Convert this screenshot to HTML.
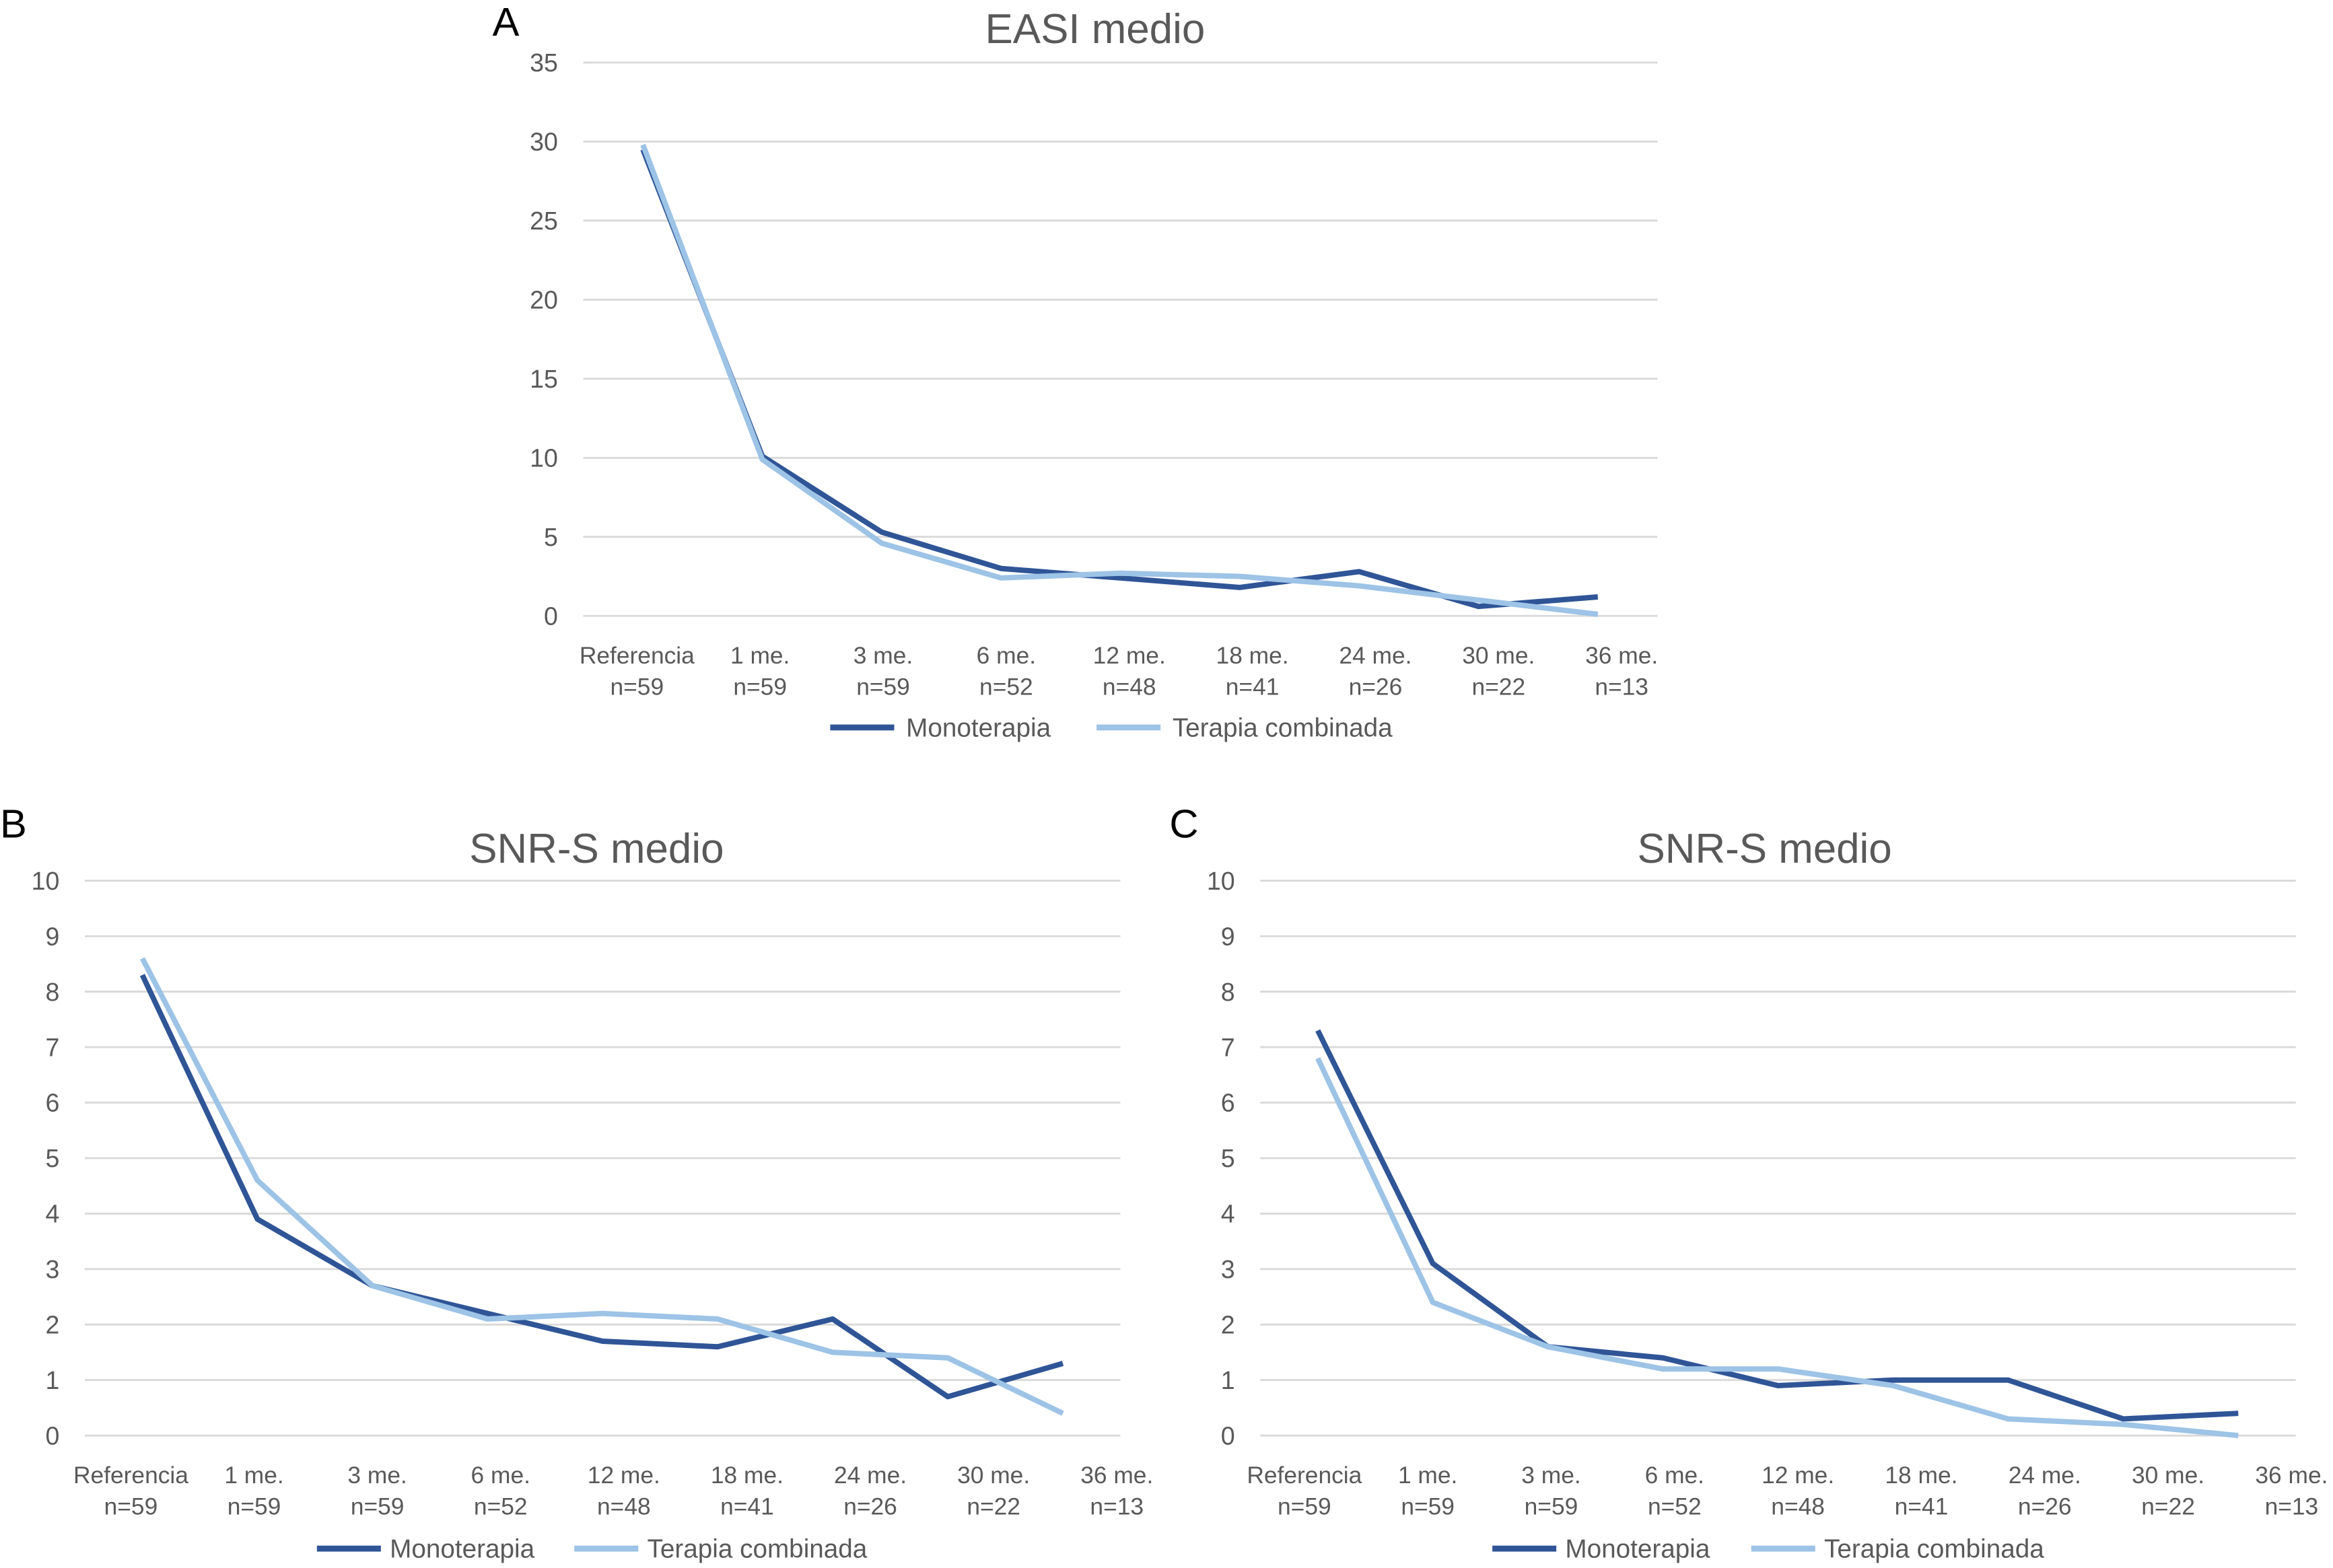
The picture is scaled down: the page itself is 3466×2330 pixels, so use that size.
<!DOCTYPE html>
<html><head><meta charset="utf-8"><style>
html,body{margin:0;padding:0;background:#fff}
svg{display:block}
text{font-family:"Liberation Sans",sans-serif}
</style></head><body>
<svg id="svg" width="3466" height="2330" viewBox="0 0 1568 1054" xmlns="http://www.w3.org/2000/svg"></svg>
<script>
const categories=["Referencia","1 me.","3 me.","6 me.","12 me.","18 me.","24 me.","30 me.","36 me."];
const nLabels=["n=59","n=59","n=59","n=52","n=48","n=41","n=26","n=22","n=13"];
const easiMono=[29.5,10.1,5.3,3.0,2.4,1.8,2.8,0.6,1.2];
const easiComb=[29.8,9.9,4.6,2.4,2.7,2.5,1.9,1.0,0.1];
const snrBMono=[8.3,3.9,2.7,2.2,1.7,1.6,2.1,0.7,1.3];
const snrBComb=[8.6,4.6,2.7,2.1,2.2,2.1,1.5,1.4,0.4];
const snrCMono=[7.3,3.1,1.6,1.4,0.9,1.0,1.0,0.3,0.4];
const snrCComb=[6.8,2.4,1.6,1.2,1.2,0.9,0.3,0.2,0.0];
const easiTicks=[0,5,10,15,20,25,30,35];
const snrTicks=[0,1,2,3,4,5,6,7,8,9,10];
const NS="http://www.w3.org/2000/svg";
const svg=document.getElementById('svg');
function el(tag,attrs,parent){const e=document.createElementNS(NS,tag);for(const k in attrs)e.setAttribute(k,attrs[k]);(parent||svg).appendChild(e);return e;}
function txt(s,attrs,parent){const t=el('text',attrs,parent);t.textContent=s;return t;}
const MONO="#2f5597",COMB="#9dc3e6",GRID="#d9d9d9",TC="#595959";
function chart(cfg){
  const g=el('g',{});
  
  
  const {x0,x1,yTop,yBot,max}=cfg;
  const step=(x1-x0)/categories.length;
  const xs=i=>x0+step*(i+0.5);
  const ys=v=>yBot-(v/max)*(yBot-yTop);
  const l=txt(cfg.letter,{x:cfg.lx,y:cfg.ly,'font-size':27,fill:'#000'},g);
  
  
  const t=txt(cfg.title,{x:(x0+x1)/2+cfg.tdx,y:cfg.ty,'font-size':28,fill:TC,'text-anchor':'middle'},g);
  
  
  cfg.ticks.forEach(v=>{
    const gl=el('line',{x1:x0,x2:x1,y1:ys(v),y2:ys(v),stroke:GRID,'stroke-width':1.3},g);
    
    
    const tl=txt(String(v),{x:x0-17,y:ys(v)+6,'font-size':17,fill:TC,'text-anchor':'end'},g);
    
    
  });
  categories.forEach((c,i)=>{
    const cx=xs(i)+cfg.lo+cfg.ls*i;
    const a=txt(c,{x:cx,y:cfg.xl1,'font-size':16,fill:TC,'text-anchor':'middle'},g);
    
    
    const b=txt(nLabels[i],{x:cx,y:cfg.xl1+21,'font-size':16,fill:TC,'text-anchor':'middle'},g);
    
    
  });
  [[cfg.mono,MONO,'series-monoterapia'],[cfg.comb,COMB,'series-terapia-combinada']].forEach(([d,col,nm])=>{
    const p=el('polyline',{points:d.map((v,i)=>xs(i)+','+ys(v)).join(' '),fill:'none',stroke:col,'stroke-width':3.6,'stroke-linejoin':'round'},g);
    
    
  });
  const lg=el('g',{},g);
  
  
  [[cfg.leg[0],MONO,'Monoterapia'],[cfg.leg[1],COMB,'Terapia combinada']].forEach(([lx,col,s])=>{
    const ln=el('line',{x1:lx,x2:lx+43,y1:cfg.legY,y2:cfg.legY,stroke:col,'stroke-width':4},lg);
    
    
    const lt=txt(s,{x:lx+cfg.legGap,y:cfg.legY+6,'font-size':17.5,fill:TC},lg);
    
    
  });
}
chart({name:'chart-a-easi',letter:'A',lx:331,ly:24,title:'EASI medio',tdx:-17,ty:29,x0:392,x1:1114,yTop:42,yBot:414,max:35,ticks:easiTicks,mono:easiMono,comb:easiComb,lo:-4,ls:2.5,xl1:446,leg:[558,737],legY:489,legGap:51});
chart({name:'chart-b-snrs',letter:'B',lx:0,ly:563,title:'SNR-S medio',tdx:-4,ty:580,x0:57,x1:753,yTop:592,yBot:965,max:10,ticks:snrTicks,mono:snrBMono,comb:snrBComb,lo:-7.7,ls:5.5,xl1:997,leg:[213,386],legY:1041,legGap:49});
chart({name:'chart-c-snrs',letter:'C',lx:786,ly:563,title:'SNR-S medio',tdx:-9,ty:580,x0:847,x1:1543,yTop:592,yBot:965,max:10,ticks:snrTicks,mono:snrCMono,comb:snrCComb,lo:-9,ls:5.6,xl1:997,leg:[1003,1177],legY:1041,legGap:49});
</script>
</body></html>
